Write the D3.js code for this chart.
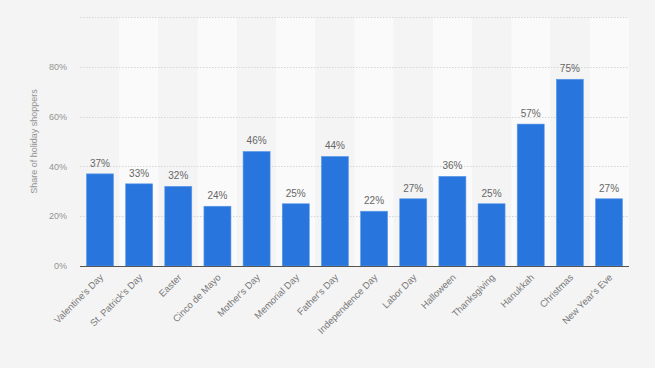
<!DOCTYPE html>
<html>
<head>
<meta charset="utf-8">
<script src="https://cdn.jsdelivr.net/npm/d3@7"></script>
<style>
  body { margin: 0; background: #f4f4f4; }
  svg { display: block; font-family: "Liberation Sans", Arial, sans-serif; }
</style>
</head>
<body>
<svg id="chart"></svg>
<script>
// data
var holidays = ["Valentine's Day", "St. Patrick's Day", "Easter", "Cinco de Mayo", "Mother's Day",
  "Memorial Day", "Father's Day", "Independence Day", "Labor Day", "Halloween",
  "Thanksgiving", "Hanukkah", "Christmas", "New Year's Eve"];
var shares = [37, 33, 32, 24, 46, 25, 44, 22, 27, 36, 25, 57, 75, 27];
var yTicks = [0, 20, 40, 60, 80, 100];

var width = 655, height = 368;
var margin = {top: 17, right: 26, bottom: 102, left: 80};
var innerW = width - margin.left - margin.right,
    innerH = height - margin.top - margin.bottom;

var svg = d3.select("#chart")
    .attr("width", width)
    .attr("height", height);

svg.append("rect")
    .attr("width", width)
    .attr("height", height)
    .attr("fill", "#f4f4f4");

var g = svg.append("g")
    .attr("transform", "translate(" + margin.left + "," + margin.top + ")");

var x = d3.scaleBand()
    .domain(holidays)
    .range([0, innerW])
    .paddingInner(0.31)
    .paddingOuter(0.165);

var y = d3.scaleLinear()
    .domain([0, 100])
    .range([innerH, 0]);

// striped columns
g.selectAll(".stripe")
  .data(holidays)
  .enter().append("rect")
    .attr("class", "stripe")
    .attr("x", function(d, i) { return i * innerW / holidays.length; })
    .attr("y", 0)
    .attr("width", innerW / holidays.length)
    .attr("height", innerH)
    .attr("fill", function(d, i) { return i % 2 ? "#fafafa" : "#f4f4f4"; });

// grid lines
g.selectAll(".grid")
  .data(yTicks.filter(function(d) { return d > 0; }))
  .enter().append("line")
    .attr("x1", 0)
    .attr("x2", innerW)
    .attr("y1", function(d) { return Math.round(y(d)) + 0.5; })
    .attr("y2", function(d) { return Math.round(y(d)) + 0.5; })
    .attr("stroke", "#d6d6d6")
    .attr("stroke-dasharray", "1.5,1.5");

// y tick labels
g.selectAll(".ytick")
  .data(yTicks.filter(function(d) { return d < 100; }))
  .enter().append("text")
    .attr("x", -13)
    .attr("y", function(d) { return y(d); })
    .attr("dy", "0.35em")
    .attr("text-anchor", "end")
    .attr("font-size", "9px")
    .attr("fill", "#939393")
    .text(function(d) { return d + "%"; });

// y axis title
svg.append("text")
    .attr("transform", "translate(37," + (margin.top + innerH / 2) + ") rotate(-90)")
    .attr("text-anchor", "middle")
    .attr("font-size", "9px")
    .attr("fill", "#939393")
    .text("Share of holiday shoppers");

// bars
g.selectAll(".bar")
  .data(shares)
  .enter().append("rect")
    .attr("class", "bar")
    .attr("x", function(d, i) { return x(holidays[i]); })
    .attr("y", function(d) { return y(d); })
    .attr("width", x.bandwidth())
    .attr("height", function(d) { return innerH - y(d); })
    .attr("fill", "#2876dd")
    .attr("stroke", "#5e9ae8")
    .attr("stroke-width", 0.6);

// value labels
g.selectAll(".val")
  .data(shares)
  .enter().append("text")
    .attr("x", function(d, i) { return x(holidays[i]) + x.bandwidth() / 2; })
    .attr("y", function(d) { return y(d) - 7; })
    .attr("text-anchor", "middle")
    .attr("font-size", "10px")
    .attr("fill", "#666")
    .text(function(d) { return d + "%"; });

// baseline
g.append("line")
    .attr("x1", 0)
    .attr("x2", innerW)
    .attr("y1", innerH + 0.5)
    .attr("y2", innerH + 0.5)
    .attr("stroke", "#555")
    .attr("stroke-width", 1);

// x labels
g.selectAll(".xlab")
  .data(holidays)
  .enter().append("text")
    .attr("transform", function(d) {
      return "translate(" + (x(d) + x.bandwidth() / 2 + 4) + "," + (innerH + 12) + ") rotate(-45)";
    })
    .attr("text-anchor", "end")
    .attr("font-size", "9.5px")
    .attr("fill", "#7a7a7a")
    .text(function(d) { return d; });
</script>
</body>
</html>
